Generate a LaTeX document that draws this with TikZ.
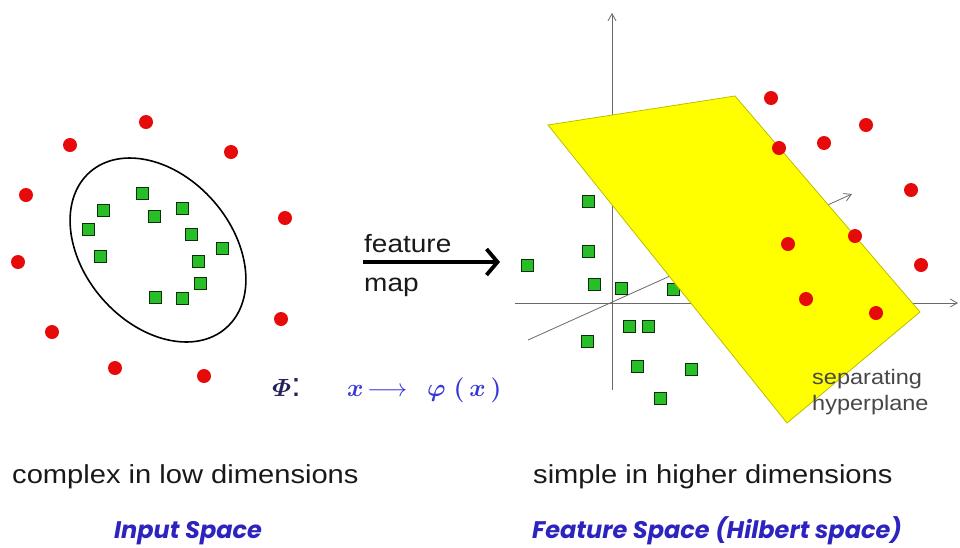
\documentclass[tikz,border=0pt]{standalone}
\usepackage{amsmath}
\usepackage{fontspec}
\setmainfont{Liberation Sans}
\newfontfamily\labfont{Poppins}
\usepackage{graphicx}
\usetikzlibrary{arrows.meta,shapes.geometric}
\definecolor{ptred}{RGB}{230,10,10}
\definecolor{ptgreen}{RGB}{40,190,40}
\definecolor{planefill}{RGB}{255,255,0}
\definecolor{planeedge}{RGB}{190,190,0}
\definecolor{axisgray}{RGB}{105,105,105}
\definecolor{labblue}{RGB}{45,35,190}
\definecolor{mapblue}{RGB}{55,55,215}
\definecolor{phinavy}{RGB}{35,35,85}
\definecolor{txtgray}{RGB}{25,25,25}
\newcommand{\wid}[1]{\scalebox{1.12}[1]{#1}}
\begin{document}
\begin{tikzpicture}[x=1pt,y=-1pt,
  redpt/.style={circle,fill=ptred,inner sep=0pt,minimum size=14pt},
  greenpt/.style={rectangle,fill=ptgreen,draw=black!75!ptgreen,line width=1pt,inner sep=0pt,minimum size=12pt},
  axisline/.style={draw=axisgray,line width=0.8pt,-{Straight Barb[length=7pt,width=8pt]}},
  bodytext/.style={font=\fontsize{26}{30}\selectfont,text=txtgray,inner sep=0pt,anchor=base west},
  smalltext/.style={font=\fontsize{21}{26}\selectfont,text=txtgray!80,inner sep=0pt,anchor=base west,align=left},
  maptext/.style={font=\fontsize{25}{30}\selectfont,text=txtgray,inner sep=0pt,anchor=base west},
  labtext/.style={font=\labfont\bfseries\itshape\fontsize{24}{28}\selectfont,text=labblue,inner sep=0pt,anchor=base},
  mathtext/.style={font=\fontsize{28}{32}\selectfont\boldmath,text=mapblue,inner sep=0pt,anchor=base west}
]
\useasboundingbox (0,0) rectangle (960,547);

% ---------------- Input space ----------------
\node[draw,ellipse,line width=1.6pt,minimum width=207pt,minimum height=148pt,inner sep=0pt,rotate=-49] (ell) at (158,250) {};

\foreach \n/\x/\y in {a1/146/122,a2/70/145,a3/231/152,a4/26/195,a5/285/218,a6/18/262,a7/281/319,a8/52/332,a9/115/368,a10/204/376}
  \node[redpt] (\n) at (\x,\y) {};

\foreach \n/\x/\y in {b1/142/193,b2/103/210,b3/154/216,b4/182/208,b5/88/229,b6/191/234,b7/222/248,b8/100/256,b9/198/261,b10/200/283,b11/155/297,b12/182/298}
  \node[greenpt] (\n) at (\x,\y) {};

% ---------------- feature map arrow ----------------
\coordinate (fa) at (363,262);
\coordinate (fb) at (500,262);
\draw[line width=3.8pt,-{Straight Barb[length=11pt,width=26pt]}] (fa) -- (fb);
\node[maptext] (feat) at (364,252) {\wid{feature}};
\node[maptext] (map) at (364,291) {\wid{map}};

% ---------------- formula ----------------
\node[font=\fontsize{34}{38}\selectfont\boldmath,text=phinavy,inner sep=0pt,anchor=base west] (phi) at (272,396) {$\varPhi$:};
\node[mathtext] (xx) at (347,396) {$x$};
\node[mathtext,font=\fontsize{28}{32}\selectfont] (arr) at (367,396) {$\longrightarrow$};
\node[mathtext] (phx) at (427,396) {$\varphi\;(\,x\,)$};

% ---------------- Feature space ----------------
\coordinate (O) at (612,303);
\coordinate (vb) at (612,390);
\coordinate (vt) at (612,13);
\coordinate (hl) at (515,303);
\coordinate (hr) at (958,303);
\coordinate (dl) at (528,340);
\coordinate (dr) at (852,194);
\draw[axisline] (vb) -- (vt);
\draw[axisline] (hl) -- (hr);
\draw[axisline] (dl) -- (dr);

\foreach \n/\x/\y in {c1/588/201,c2/588/251,c3/527/265,c4/594/284,c5/621/288,c6/673/289,c7/629/326,c8/648/326,c9/587/341,c10/637/366,c11/691/369,c12/660/398}
  \node[greenpt] (\n) at (\x,\y) {};

\coordinate (p1) at (548,125);
\coordinate (p2) at (735,96);
\coordinate (p3) at (920,312);
\coordinate (p4) at (787,423);
\draw[fill=planefill,draw=planeedge,line width=0.8pt] (p1) -- (p2) -- (p3) -- (p4) -- cycle;

\foreach \n/\x/\y in {d1/771/98,d2/866/125,d3/824/143,d4/779/148,d5/911/190,d6/855/236,d7/788/244,d8/921/265,d9/806/299,d10/876/313}
  \node[redpt] (\n) at (\x,\y) {};

\node[smalltext] (sep) at (812,384) {\wid{separating}};
\node[smalltext] (hyp) at (812,410) {\wid{hyperplane}};

% ---------------- captions ----------------
\node[bodytext] (cx) at (12,483) {\wid{complex in low dimensions}};
\node[bodytext] (sm) at (533,483) {\wid{simple in higher dimensions}};
\node[labtext] (inp) at (188,538) {Input Space};
\node[labtext] (fsp) at (717,538) {Feature Space (Hilbert space)};
\end{tikzpicture}
\end{document}
